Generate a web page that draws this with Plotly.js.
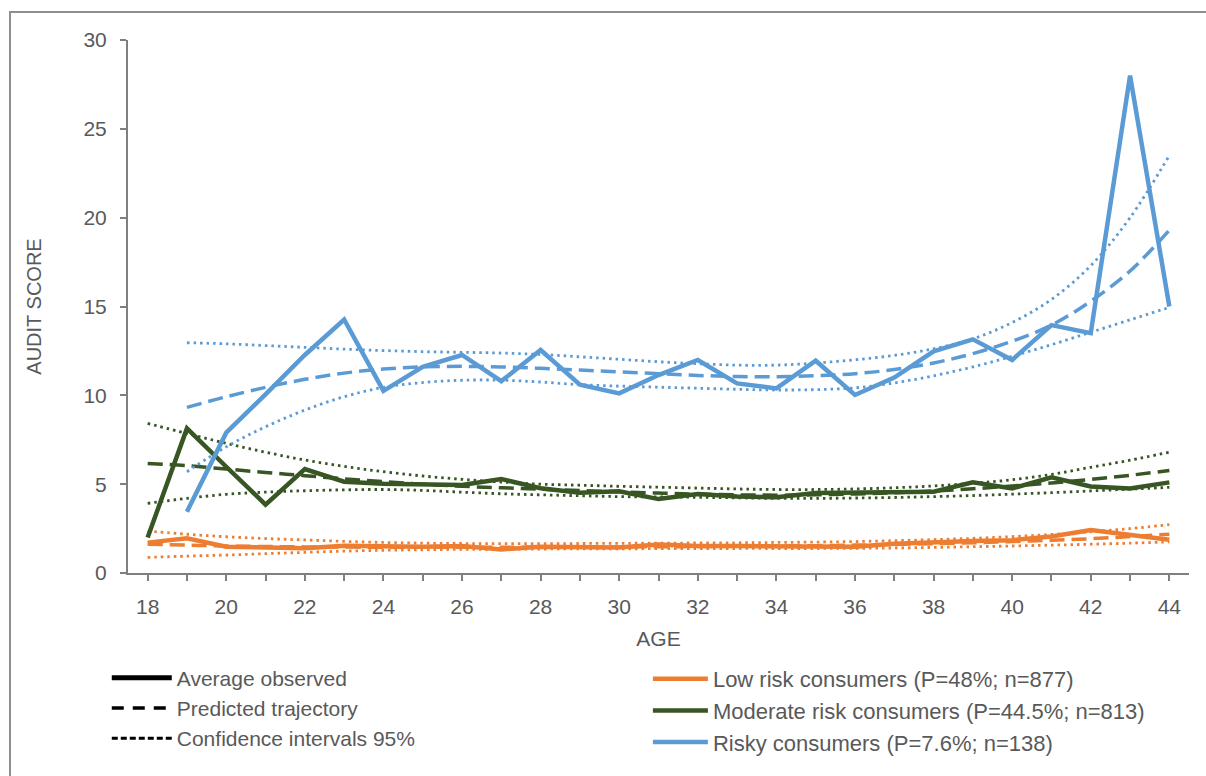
<!DOCTYPE html>
<html>
<head>
<meta charset="utf-8">
<script src="https://cdn.plot.ly/plotly-3.0.1.min.js"></script>
<style>
html,body{margin:0;padding:0;background:#fff;}
#wrap{position:relative;width:1206px;height:776px;overflow:hidden;}
#frame{position:absolute;left:9px;top:11px;width:1300px;height:900px;border-left:2px solid #8f8f8f;border-top:2px solid #8f8f8f;pointer-events:none;}
#chart{position:absolute;left:0;top:0;width:1206px;height:776px;}
</style>
</head>
<body>
<div id="wrap"><div id="chart"></div><div id="frame"></div></div>
<script>
const ages = [18,19,20,21,22,23,24,25,26,27,28,29,30,31,32,33,34,35,36,37,38,39,40,41,42,43,44];
const riskyAges = [19,20,21,22,23,24,25,26,27,28,29,30,31,32,33,34,35,36,37,38,39,40,41,42,43,44];

const lowObs   = [1.71,1.95,1.48,1.44,1.39,1.54,1.48,1.48,1.52,1.33,1.48,1.48,1.44,1.61,1.52,1.52,1.52,1.52,1.48,1.65,1.75,1.80,1.85,2.05,2.42,2.16,1.87];
const lowPred  = [1.62,1.57,1.52,1.49,1.47,1.46,1.45,1.45,1.45,1.45,1.46,1.46,1.47,1.48,1.49,1.50,1.52,1.54,1.57,1.61,1.65,1.70,1.77,1.84,1.93,2.05,2.18];
const lowUpper = [2.36,2.18,2.04,1.94,1.86,1.78,1.72,1.68,1.66,1.65,1.65,1.66,1.67,1.68,1.69,1.70,1.72,1.74,1.77,1.82,1.88,1.95,2.05,2.17,2.32,2.50,2.72];
const lowLower = [0.88,0.95,1.01,1.09,1.16,1.23,1.28,1.31,1.33,1.34,1.35,1.36,1.36,1.37,1.37,1.38,1.38,1.38,1.39,1.41,1.44,1.48,1.52,1.57,1.62,1.68,1.75];

const modObs   = [2.00,8.14,5.98,3.85,5.85,5.14,5.02,5.00,4.95,5.29,4.77,4.52,4.60,4.16,4.45,4.30,4.26,4.50,4.52,4.57,4.57,5.10,4.76,5.39,4.87,4.76,5.10];
const modPred  = [6.17,6.04,5.85,5.66,5.48,5.30,5.14,5.00,4.88,4.80,4.72,4.64,4.57,4.50,4.44,4.40,4.38,4.40,4.45,4.52,4.62,4.74,4.90,5.07,5.27,5.50,5.77];
const modUpper = [8.42,7.85,7.30,6.80,6.36,6.00,5.70,5.46,5.27,5.12,5.00,4.94,4.88,4.83,4.78,4.73,4.70,4.70,4.73,4.80,4.90,5.05,5.25,5.55,5.95,6.35,6.80];
const modLower = [3.92,4.20,4.43,4.55,4.63,4.68,4.70,4.65,4.55,4.46,4.40,4.35,4.30,4.28,4.26,4.23,4.20,4.20,4.22,4.25,4.30,4.36,4.44,4.52,4.62,4.72,4.82];

const riskyObs   = [3.45,7.90,10.05,12.27,14.27,10.25,11.60,12.27,10.80,12.55,10.60,10.11,11.14,11.99,10.67,10.39,11.95,10.02,11.00,12.48,13.15,11.99,13.95,13.50,28.00,15.00];
const riskyPred  = [9.32,9.92,10.45,10.90,11.25,11.48,11.60,11.63,11.60,11.52,11.42,11.32,11.22,11.12,11.06,11.05,11.10,11.22,11.45,11.82,12.35,13.05,13.95,15.30,17.00,19.30];
const riskyUpper = [12.96,12.90,12.80,12.70,12.60,12.52,12.46,12.42,12.38,12.30,12.17,12.03,11.89,11.78,11.70,11.70,11.82,12.00,12.25,12.62,13.18,14.10,15.40,17.30,20.00,23.50];
const riskyLower = [5.70,7.10,8.23,9.17,9.92,10.45,10.72,10.85,10.85,10.75,10.60,10.52,10.46,10.40,10.34,10.30,10.32,10.42,10.70,11.10,11.60,12.20,12.85,13.55,14.25,14.95];

const groupNames = ['Low risk consumers (P=48%; n=877)','Moderate risk consumers (P=44.5%; n=813)','Risky consumers (P=7.6%; n=138)'];
const styleNames = ['Average observed','Predicted trajectory','Confidence intervals 95%'];

const colors = ['#ED7D31','#375623','#5B9BD5'];
const DOT = '2.5px,4px';
const DASH = '15px,7px';

const groups = [
  {x: ages, obs: lowObs, pred: lowPred, up: lowUpper, lo: lowLower},
  {x: ages, obs: modObs, pred: modPred, up: modUpper, lo: modLower},
  {x: riskyAges, obs: riskyObs, pred: riskyPred, up: riskyUpper, lo: riskyLower}
];

const traces = [];
groups.forEach((g, i) => {
  const c = colors[i];
  traces.push({x: g.x, y: g.up, mode: 'lines', line: {color: c, width: 2.8, dash: DOT, shape: 'spline'}, showlegend: false, hoverinfo: 'skip'});
  traces.push({x: g.x, y: g.lo, mode: 'lines', line: {color: c, width: 2.8, dash: DOT, shape: 'spline'}, showlegend: false, hoverinfo: 'skip'});
  traces.push({x: g.x, y: g.pred, mode: 'lines', line: {color: c, width: 3.5, dash: DASH, shape: 'spline'}, showlegend: false});
});
groups.forEach((g, i) => {
  traces.push({x: g.x, y: g.obs, mode: 'lines', name: groupNames[i], line: {color: colors[i], width: 4.5}, legend: 'legend2'});
});
// style key legend
traces.push({x: [null], y: [null], mode: 'lines', name: styleNames[0], line: {color: '#000', width: 5}, legend: 'legend'});
traces.push({x: [null], y: [null], mode: 'lines', name: styleNames[1], line: {color: '#000', width: 3.5, dash: '12px,9px'}, legend: 'legend'});
traces.push({x: [null], y: [null], mode: 'lines', name: styleNames[2], line: {color: '#000', width: 3, dash: '6px,3px'}, legend: 'legend'});

const FONT = 'Liberation Sans, Arial, sans-serif';
const TXT = '#595959';

const layout = {
  width: 1206, height: 776,
  margin: {l: 128, r: 17, t: 40, b: 203},
  paper_bgcolor: '#fff', plot_bgcolor: '#fff',
  font: {family: FONT, color: TXT, size: 20},
  xaxis: {
    range: [17.5, 44.5], tick0: 18, dtick: 2, showgrid: false, zeroline: false,
    showline: true, linecolor: '#808080', linewidth: 2,
    ticks: 'outside', ticklen: 6, tickcolor: '#808080', tickwidth: 2,
    minor: {dtick: 1, tick0: 18, ticks: 'outside', ticklen: 6, tickcolor: '#808080', tickwidth: 2},
    tickfont: {family: FONT, size: 21, color: TXT},
    ticklabelstandoff: 8,
    title: {text: 'AGE', font: {family: FONT, size: 21, color: TXT}, standoff: 14},
    automargin: false
  },
  yaxis: {
    range: [0, 30], dtick: 5, showgrid: false, zeroline: false,
    showline: true, linecolor: '#808080', linewidth: 2,
    ticks: 'outside', ticklen: 6, tickcolor: '#808080', tickwidth: 2,
    tickfont: {family: FONT, size: 21, color: TXT},
    ticklabelstandoff: 9,
    title: {text: 'AUDIT SCORE', font: {family: FONT, size: 20, color: TXT}, standoff: 36},
    automargin: false
  },
  legend: {
    x: -0.02, y: -0.1585, xanchor: 'left', yanchor: 'top',
    font: {family: FONT, size: 21, color: TXT}, bgcolor: 'rgba(0,0,0,0)',
    tracegroupgap: 0, itemwidth: 60, traceorder: 'normal'
  },
  legend2: {
    x: 0.49, y: -0.1595, xanchor: 'left', yanchor: 'top',
    font: {family: FONT, size: 22, color: TXT}, bgcolor: 'rgba(0,0,0,0)',
    tracegroupgap: 0, itemwidth: 55, traceorder: 'normal'
  },
  showlegend: true
};

Plotly.newPlot('chart', traces, layout, {displayModeBar: false, staticPlot: true});
</script>
</body>
</html>
